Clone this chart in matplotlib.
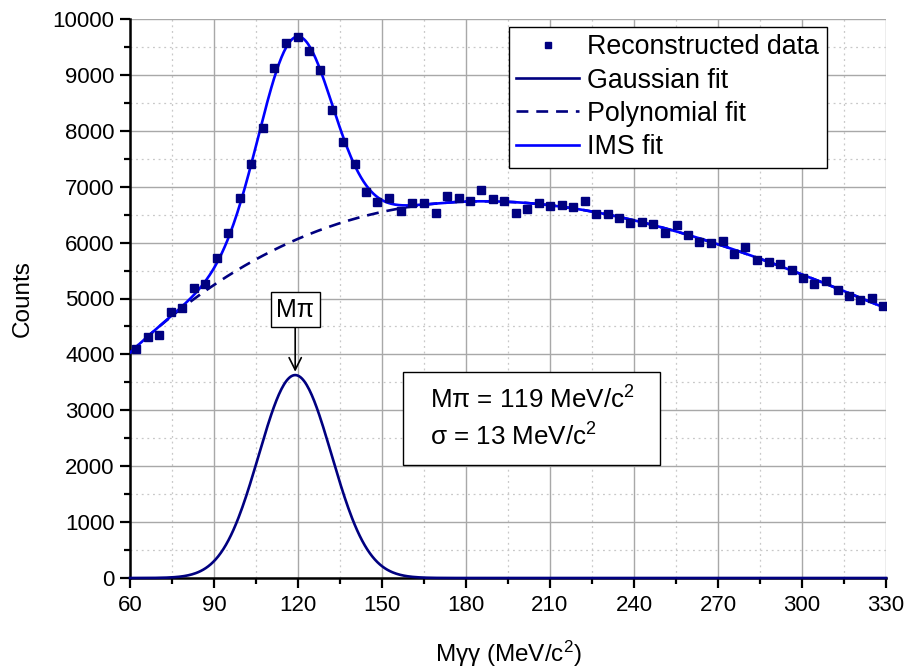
import numpy as np
import matplotlib
matplotlib.use('Agg')
from matplotlib import pyplot as plt
from matplotlib.patches import Rectangle
from matplotlib.ticker import MultipleLocator

# reconstructed two-photon invariant mass spectrum
mass = [62.1, 66.5, 70.5, 74.6, 78.7, 82.9, 86.9, 91.1, 95.1, 99.3,
        103.3, 107.5, 111.5, 115.6, 119.9, 123.9, 128.0, 132.0, 136.2, 140.4,
        144.4, 148.3, 152.6, 156.8, 160.8, 165.0, 169.2, 173.2, 177.4, 181.4,
        185.5, 189.6, 193.7, 197.7, 201.9, 206.0, 210.1, 214.2, 218.3, 222.5,
        226.5, 230.6, 234.8, 238.7, 242.7, 246.9, 251.1, 255.2, 259.3, 263.3,
        267.5, 271.7, 275.7, 279.8, 284.0, 288.1, 292.1, 296.3, 300.4, 304.4,
        308.6, 312.8, 316.8, 320.8, 325.0, 329.0]
counts = [4091, 4317, 4347, 4753, 4836, 5194, 5265, 5730, 6166, 6792,
          7412, 8056, 9118, 9565, 9684, 9433, 9082, 8372, 7794, 7400,
          6911, 6732, 6792, 6559, 6714, 6708, 6535, 6839, 6798, 6744,
          6946, 6786, 6738, 6524, 6601, 6714, 6649, 6678, 6643, 6750,
          6517, 6506, 6434, 6350, 6375, 6327, 6177, 6309, 6136, 6005,
          5998, 6029, 5791, 5921, 5683, 5653, 5623, 5504, 5367, 5265,
          5313, 5152, 5050, 4968, 5014, 4866]

# fit parameters (peak position / width from the plot annotation)
m_pi = 119
sigma = 13
gauss_amp = 3630

plt.rcParams['font.family'] = ['Liberation Sans', 'DejaVu Sans']
plt.rcParams['mathtext.default'] = 'regular'

mass = np.array(mass)
counts = np.array(counts)

def gauss(x):
    return gauss_amp * np.exp(-(x - m_pi) ** 2 / (2 * sigma ** 2))

# polynomial background fitted on what is left after the gaussian
coef = np.polyfit(mass, counts - gauss(mass), 3)
xs = np.linspace(60, 330, 600)
poly = np.polyval(coef, xs)

fig = plt.figure(figsize=(9.09, 6.72), dpi=100)
ax = fig.add_axes([130 / 909, 1 - 578 / 672, 756 / 909, 559 / 672])

ax.plot(mass, counts, 's', color='#000080', ms=5.2, label='Reconstructed data', zorder=5)
ax.plot(xs, gauss(xs), '-', color='#000080', lw=1.9, label='Gaussian fit', zorder=3, clip_on=False)
ax.plot(xs, poly, '--', color='#000080', lw=1.9, dashes=(4.5, 3), label='Polynomial fit', zorder=3)
ax.plot(xs, gauss(xs) + poly, '-', color='#0000ff', lw=1.9, label='IMS fit', zorder=4)

ax.set_xlim(60, 330)
ax.set_ylim(0, 10000)
ax.xaxis.set_major_locator(MultipleLocator(30))
ax.xaxis.set_minor_locator(MultipleLocator(15))
ax.yaxis.set_major_locator(MultipleLocator(1000))
ax.yaxis.set_minor_locator(MultipleLocator(500))

ax.grid(which='major', color='#a8a8a8', lw=1.0, ls='-')
ax.grid(which='minor', color='#c8c8c8', lw=0.9, ls=(0, (1.5, 3)))
ax.set_axisbelow(True)

for s in ['top', 'right']:
    ax.spines[s].set_visible(False)
for s in ['left', 'bottom']:
    ax.spines[s].set_linewidth(1.8)
ax.tick_params(which='major', direction='out', length=7, width=1.6)
ax.tick_params(which='minor', direction='out', length=4, width=1.6)
ax.tick_params(axis='y', labelsize=16, pad=4)
ax.tick_params(axis='x', labelsize=16, pad=5)

ax.set_ylabel('Counts', fontsize=17.5, labelpad=14)
ax.set_xlabel('M\u03b3\u03b3 (MeV/c$^2$)', fontsize=17.5, labelpad=17)

leg = ax.legend(loc='upper left', bbox_to_anchor=(0.501, 0.986), fontsize=19.3,
                handlelength=2.35, handletextpad=0.3, labelspacing=0.27,
                borderpad=0.28, borderaxespad=0, fancybox=False, framealpha=1,
                edgecolor='black', numpoints=1, markerscale=0.8)
leg.get_frame().set_linewidth(1.0)

ax.annotate('M\u03c0', xy=(m_pi, gauss_amp + 60), xytext=(m_pi, 4800),
            ha='center', va='center', fontsize=18,
            bbox=dict(boxstyle='square,pad=0.22', fc='white', ec='black', lw=1),
            arrowprops=dict(arrowstyle='->', color='black', lw=1.2,
                            mutation_scale=22, shrinkA=0, shrinkB=0))

# parameter box
ax.add_patch(Rectangle((0.361, 0.202), 0.340, 0.1665, transform=ax.transAxes,
                       fc='white', ec='black', lw=1, zorder=6))
ax.text(0.397, 0.285, 'M\u03c0 = 119 MeV/c$^2$\n\u03c3 = 13 MeV/c$^2$',
        transform=ax.transAxes, fontsize=18.7, linespacing=1.45, va='center', ha='left',
        zorder=7)

fig.savefig('out.png', dpi=100)
